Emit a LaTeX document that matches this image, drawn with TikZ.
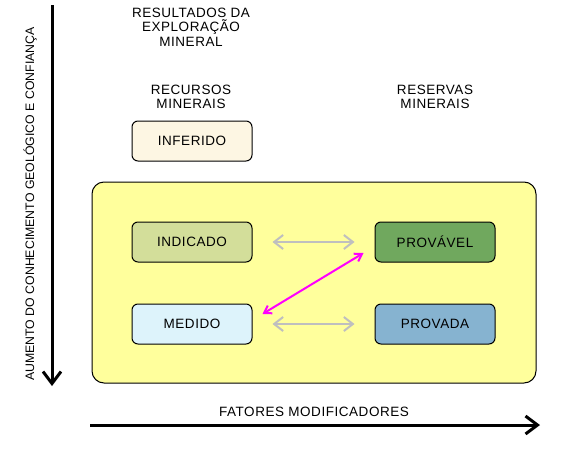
\documentclass[tikz,border=0pt]{standalone}
\usepackage{fontspec}
\setmainfont{Liberation Sans}
\usetikzlibrary{arrows.meta,positioning}

\definecolor{fundo}{HTML}{FFFF9C}
\definecolor{inferido}{HTML}{FDF6E3}
\definecolor{indicado}{HTML}{D3DE9A}
\definecolor{medido}{HTML}{DDF3FB}
\definecolor{provavel}{HTML}{70A85E}
\definecolor{provada}{HTML}{86B3D0}
\definecolor{rosa}{HTML}{FF00FF}

\newfontfamily\largo[LetterSpace=4]{Liberation Sans}
\tikzstyle{classe}=[rectangle,draw,line width=1pt,rounded corners=6pt,
minimum width=120pt,minimum height=40pt,text centered]
\tikzstyle{rotulo}=[align=center]
\tikzstyle{eixo}=[draw,line width=3pt,-{Straight Barb[length=12pt,width=18pt,line width=3pt]}]
\tikzstyle{troca}=[draw,line width=2pt,color=black!25,
{Straight Barb[length=9pt,width=14pt]}-{Straight Barb[length=9pt,width=14pt]}]

\begin{document}
\begin{tikzpicture}[x=1pt,y=-1pt,font=\largo\fontsize{13.5}{14.5}\selectfont]
\useasboundingbox (0,0) rectangle (567,455);
% fundo amarelo
\draw [fill=fundo,line width=1pt,rounded corners=12pt] (92,182) rectangle (536,383);
% titulos
\node [rotulo] (titulo) at (191,27) {RESULTADOS DA\\EXPLORAÇÃO\\MINERAL};
\node [rotulo] (recursos) at (191,97) {RECURSOS\\MINERAIS};
\node [rotulo] (reservas) at (435,97) {RESERVAS\\MINERAIS};
% classes
\node [classe,fill=inferido] (inferido) at (192,141) {INFERIDO};
\node [classe,fill=indicado] (indicado) at (192,242) {INDICADO};
\node [classe,fill=medido,below=41pt of indicado] (medido) {MEDIDO};
\node [classe,fill=provavel] (provavel) at (435,242) {PROVÁVEL};
\node [classe,fill=provada,below=41pt of provavel] (provada) {PROVADA};
% conversoes
\path [troca] ([xshift=20pt]indicado.east) -- ([xshift=-20pt]provavel.west);
\path [troca] ([xshift=20pt]medido.east) -- ([xshift=-20pt]provada.west);
\path [draw,line width=2pt,color=rosa,
{Straight Barb[length=7pt,width=9pt]}-{Straight Barb[length=7pt,width=9pt]}]
([xshift=10pt,yshift=10pt]medido.east) -- ([xshift=-11pt,yshift=-11pt]provavel.west);
% eixos
\coordinate (topo) at (52,5);
\coordinate (base) at (52,386);
\coordinate (inicio) at (90,425);
\coordinate (fim) at (540,425);
\path [eixo] (topo) -- (base);
\path [eixo] (inicio) -- (fim);
\node [rotate=90,font=\fontsize{12.3}{14}\selectfont] (conhecimento) at (30,204) {AUMENTO DO CONHECIMENTO GEOLÓGICO E CONFIANÇA};
\node (fatores) at (314,412) {FATORES MODIFICADORES};
\end{tikzpicture}
\end{document}
